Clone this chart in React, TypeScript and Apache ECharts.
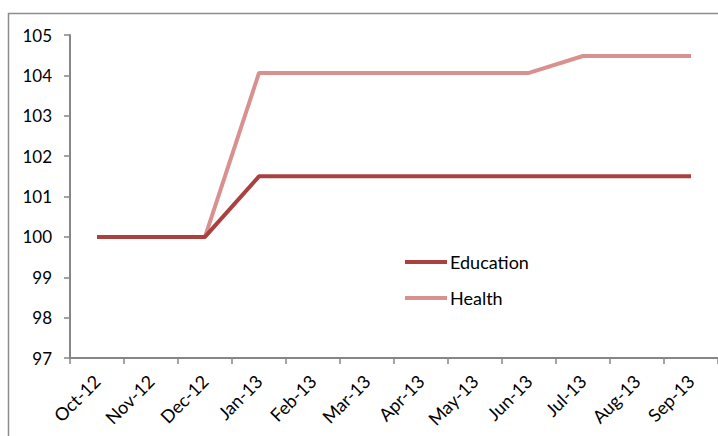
import React, { useEffect, useRef } from "react";
import * as echarts from "echarts";

const months = [
  "Oct-12", "Nov-12", "Dec-12", "Jan-13", "Feb-13", "Mar-13",
  "Apr-13", "May-13", "Jun-13", "Jul-13", "Aug-13", "Sep-13",
];
const education = [100, 100, 100, 101.5, 101.5, 101.5, 101.5, 101.5, 101.5, 101.5, 101.5, 101.5];
const health = [100, 100, 100, 104.06, 104.06, 104.06, 104.06, 104.06, 104.06, 104.48, 104.48, 104.48];

const FONT = "Lato, 'Open Sans', sans-serif";
const AXIS_GRAY = "#868686";

export default function App() {
  const ref = useRef<HTMLDivElement>(null);

  useEffect(() => {
    if (!ref.current) return;
    const chart = echarts.init(ref.current, null, { renderer: "svg" });
    chart.setOption({
      animation: false,
      backgroundColor: "#ffffff",
      graphic: [
        {
          type: "rect",
          shape: { x: 8.5, y: 13.5, width: 730, height: 440 },
          style: { fill: "none", stroke: "#8c8c8c", lineWidth: 1.5 },
          silent: true,
        },
      ],
      grid: { left: 70, top: 35, right: 0, bottom: 78, containLabel: false },
      legend: {
        orient: "vertical",
        left: 405,
        top: 253,
        padding: 0,
        itemWidth: 42,
        itemHeight: 4,
        itemGap: 18,
        icon: "rect",
        textStyle: { fontFamily: FONT, fontSize: 18, color: "#000", padding: [0, 0, 0, -2] },
        data: ["Education", "Health"],
      },
      xAxis: {
        type: "category",
        data: months,
        boundaryGap: true,
        axisLine: { lineStyle: { color: AXIS_GRAY, width: 2 } },
        axisTick: { show: true, length: 6, lineStyle: { color: AXIS_GRAY, width: 1.5 } },
        axisLabel: {
          rotate: 45,
          interval: 0,
          margin: 20,
          fontFamily: FONT,
          fontSize: 18,
          color: "#000",
        },
        splitLine: { show: false },
      },
      yAxis: {
        type: "value",
        min: 97,
        max: 105,
        interval: 1,
        axisLine: { show: true, lineStyle: { color: AXIS_GRAY, width: 2 } },
        axisTick: { show: true, length: 6, lineStyle: { color: AXIS_GRAY, width: 1.5 } },
        axisLabel: { margin: 18, fontFamily: FONT, fontSize: 17, color: "#000" },
        splitLine: { show: false },
      },
      series: [
        {
          name: "Education",
          type: "line",
          data: education,
          symbol: "none",
          lineStyle: { color: "#A9423F", width: 4 },
          itemStyle: { color: "#A9423F" },
          z: 3,
        },
        {
          name: "Health",
          type: "line",
          data: health,
          symbol: "none",
          lineStyle: { color: "#D8918F", width: 4 },
          itemStyle: { color: "#D8918F" },
          z: 2,
        },
      ],
    });
    return () => chart.dispose();
  }, []);

  return (
    <div
      ref={ref}
      style={{ position: "fixed", left: 0, top: 0, width: 718, height: 436 }}
    />
  );
}
